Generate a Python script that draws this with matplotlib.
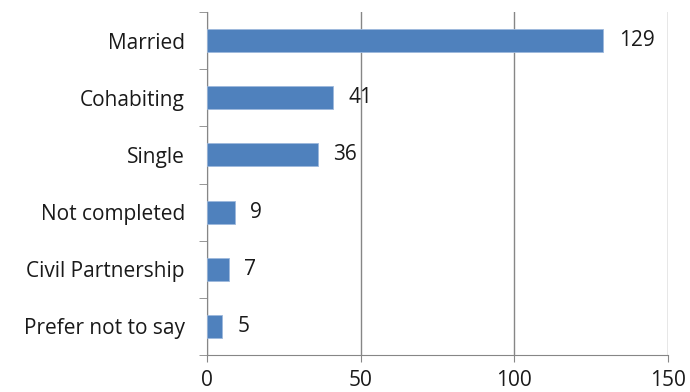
import matplotlib
matplotlib.use("Agg")
import matplotlib.pyplot as plt

categories = ["Married", "Cohabiting", "Single", "Not completed", "Civil Partnership", "Prefer not to say"]
values = [129, 41, 36, 9, 7, 5]
xticks = [0, 50, 100, 150]

plt.rcParams['font.family'] = ['Open Sans', 'DejaVu Sans']
FS = 15

fig = plt.figure(figsize=(6.9, 3.92), dpi=100)
ax = fig.add_axes([207/690, 1 - 355/392, (668-207)/690, (355-12)/392])

n = len(categories)
ypos = list(range(n))[::-1]
ax.barh(ypos, values, height=0.4, color="#4F81BD", edgecolor="#9DB8DC", linewidth=0.6, zorder=3)
for y, v in zip(ypos, values):
    ax.annotate(str(v), xy=(v, y), xytext=(11, 0), textcoords="offset points",
                ha="left", va="center", fontsize=FS, color="#1a1a1a")

ax.set_xlim(0, 150)
ax.set_ylim(-0.5, n - 0.5)
ax.set_xticks(xticks)
ax.set_xticklabels([str(t) for t in xticks], fontsize=FS, color="#1a1a1a")
ax.xaxis.grid(True, color="#868686", linewidth=1.0, zorder=0)
ax.tick_params(axis="x", length=5, color="#868686", pad=6)

ax.set_yticks(ypos)
ax.set_yticklabels(categories, fontsize=FS, color="#1a1a1a")
ax.tick_params(axis="y", length=0, pad=16)
ax.set_yticks([i - 0.5 for i in range(n + 1)], minor=True)
ax.tick_params(axis="y", which="minor", length=6, color="#868686")

for s in ["top", "right"]:
    ax.spines[s].set_visible(False)
for s in ["left", "bottom"]:
    ax.spines[s].set_color("#868686")

fig.savefig("out.png", dpi=100)
